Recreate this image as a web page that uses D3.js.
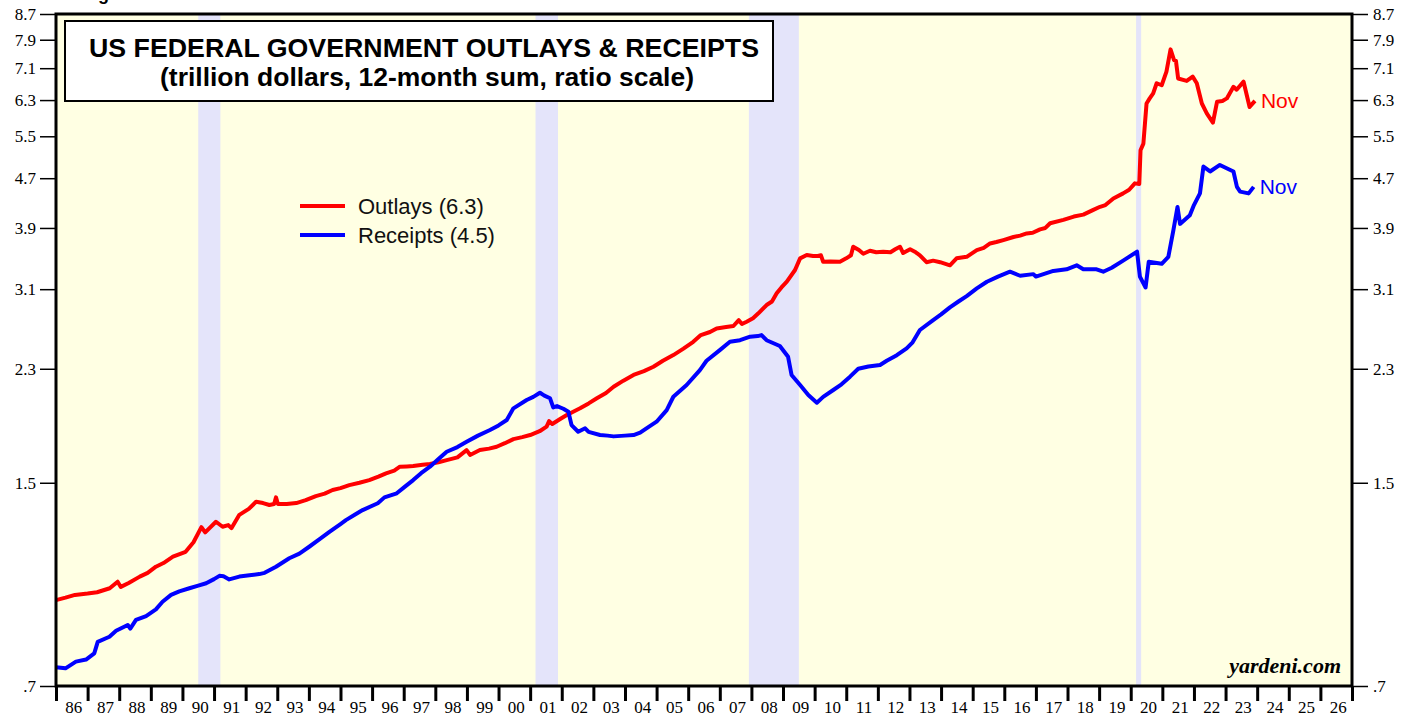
<!DOCTYPE html>
<html>
<head>
<meta charset="utf-8">
<script src="https://cdn.jsdelivr.net/npm/d3@7"></script>
<style>
	html, body { margin: 0; padding: 0; background: #fff; }
	svg { display: block; }
	.axis-label { font-family: "Liberation Serif", "Times New Roman", serif; font-size: 17px; fill: #000; }
	.sans { font-family: "Liberation Sans", Arial, sans-serif; }
</style>
</head>
<body>
<svg id="chart" width="1417" height="717"></svg>
<script>
;(function() {
	"use strict";

	// tick values on the ratio scale, both sides
	var yTicks = [0.7, 1.5, 2.3, 3.1, 3.9, 4.7, 5.5, 6.3, 7.1, 7.9, 8.7];

	// year labels along the bottom
	var years = d3.range(1986, 2027);

	// recessions, decimal years
	var recessions = [[1990.5, 1991.2], [2001.17, 2001.88], [2007.92, 2009.5], [2020.17, 2020.33]];

	// outlays, trillion dollars, 12-month sum: [decimal year, value]
	var outlays = [
		[1986.0, 0.966], [1986.3, 0.975], [1986.6, 0.985], [1987.0, 0.99], [1987.3, 0.995],
		[1987.7, 1.01], [1987.95, 1.035], [1988.05, 1.015], [1988.3, 1.03], [1988.65, 1.055],
		[1988.9, 1.07], [1989.16, 1.095], [1989.4, 1.11], [1989.7, 1.137], [1990.1, 1.158],
		[1990.35, 1.20], [1990.6, 1.27], [1990.72, 1.245], [1991.06, 1.296], [1991.27, 1.272],
		[1991.45, 1.28], [1991.55, 1.265], [1991.8, 1.33], [1992.1, 1.36], [1992.33, 1.397],
		[1992.55, 1.39], [1992.75, 1.38], [1992.9, 1.385], [1992.96, 1.42], [1993.02, 1.385],
		[1993.3, 1.385], [1993.6, 1.39], [1993.9, 1.405], [1994.22, 1.427], [1994.5, 1.44],
		[1994.75, 1.46], [1995.0, 1.47], [1995.28, 1.487], [1995.6, 1.50], [1995.91, 1.515],
		[1996.2, 1.535], [1996.44, 1.554], [1996.7, 1.57], [1996.88, 1.593], [1997.1, 1.595],
		[1997.3, 1.597], [1997.6, 1.605], [1997.83, 1.61], [1998.1, 1.62], [1998.36, 1.633],
		[1998.7, 1.65], [1998.99, 1.695], [1999.1, 1.665], [1999.41, 1.696], [1999.7, 1.705],
		[1999.94, 1.717], [2000.2, 1.74], [2000.47, 1.767], [2000.75, 1.78], [2001.0, 1.794],
		[2001.3, 1.82], [2001.52, 1.851], [2001.6, 1.89], [2001.7, 1.87], [2001.95, 1.905],
		[2002.16, 1.934], [2002.58, 1.983], [2002.85, 2.02], [2003.11, 2.059], [2003.4, 2.10],
		[2003.64, 2.15], [2003.95, 2.20], [2004.27, 2.247], [2004.6, 2.28], [2004.9, 2.318],
		[2005.2, 2.37], [2005.53, 2.421], [2005.85, 2.48], [2006.16, 2.545], [2006.4, 2.61],
		[2006.69, 2.64], [2006.9, 2.676], [2007.2, 2.69], [2007.43, 2.70], [2007.6, 2.76],
		[2007.7, 2.72], [2007.85, 2.744], [2008.05, 2.78], [2008.22, 2.832], [2008.48, 2.921],
		[2008.65, 2.96], [2008.8, 3.052], [2008.95, 3.12], [2009.12, 3.188], [2009.38, 3.331],
		[2009.54, 3.48], [2009.75, 3.523], [2009.95, 3.51], [2010.1, 3.51], [2010.2, 3.52],
		[2010.27, 3.436], [2010.5, 3.44], [2010.8, 3.436], [2011.0, 3.48], [2011.15, 3.52],
		[2011.22, 3.635], [2011.4, 3.59], [2011.54, 3.54], [2011.75, 3.58], [2011.95, 3.56],
		[2012.17, 3.568], [2012.4, 3.56], [2012.55, 3.60], [2012.7, 3.635], [2012.8, 3.55],
		[2013.02, 3.60], [2013.2, 3.56], [2013.33, 3.52], [2013.54, 3.43], [2013.75, 3.45],
		[2013.97, 3.43], [2014.28, 3.39], [2014.49, 3.48], [2014.81, 3.50], [2015.13, 3.59],
		[2015.35, 3.62], [2015.55, 3.68], [2015.75, 3.70], [2015.97, 3.727], [2016.29, 3.77],
		[2016.5, 3.79], [2016.71, 3.821], [2016.9, 3.83], [2017.13, 3.88], [2017.3, 3.90],
		[2017.45, 3.97], [2017.87, 4.02], [2018.2, 4.07], [2018.5, 4.10], [2018.8, 4.17],
		[2019.03, 4.222], [2019.2, 4.25], [2019.45, 4.357], [2019.76, 4.44], [2019.95, 4.50],
		[2020.13, 4.61], [2020.27, 4.60], [2020.31, 5.22], [2020.4, 5.35], [2020.5, 6.22],
		[2020.6, 6.34], [2020.71, 6.46], [2020.82, 6.71], [2020.98, 6.66], [2021.13, 7.01],
		[2021.26, 7.62], [2021.37, 7.32], [2021.43, 7.30], [2021.5, 6.83], [2021.77, 6.77],
		[2021.96, 6.88], [2022.09, 6.71], [2022.25, 6.22], [2022.41, 5.99], [2022.6, 5.79],
		[2022.73, 6.26], [2022.9, 6.28], [2023.04, 6.34], [2023.25, 6.62], [2023.35, 6.55],
		[2023.57, 6.75], [2023.76, 6.14], [2023.93, 6.28]
	];

	// receipts, same units
	var receipts = [
		[1986.0, 0.751], [1986.3, 0.748], [1986.63, 0.767], [1986.95, 0.773], [1987.21, 0.791],
		[1987.27, 0.81], [1987.32, 0.826], [1987.69, 0.842], [1987.9, 0.861], [1988.27, 0.880],
		[1988.35, 0.868], [1988.53, 0.897], [1988.85, 0.91], [1989.16, 0.933], [1989.37, 0.960],
		[1989.64, 0.985], [1989.9, 0.998], [1990.22, 1.010], [1990.5, 1.02], [1990.75, 1.029],
		[1991.0, 1.045], [1991.17, 1.058], [1991.3, 1.056], [1991.48, 1.044], [1991.8, 1.055],
		[1992.12, 1.06], [1992.43, 1.065], [1992.6, 1.07], [1992.96, 1.095], [1993.38, 1.130],
		[1993.7, 1.15], [1994.01, 1.180], [1994.35, 1.215], [1994.65, 1.248], [1995.0, 1.285],
		[1995.17, 1.304], [1995.45, 1.33], [1995.7, 1.354], [1996.18, 1.389], [1996.39, 1.420],
		[1996.78, 1.442], [1997.05, 1.48], [1997.3, 1.515], [1997.55, 1.555], [1997.83, 1.593],
		[1998.1, 1.64], [1998.36, 1.685], [1998.7, 1.715], [1998.99, 1.749], [1999.35, 1.79],
		[1999.73, 1.828], [2000.0, 1.86], [2000.26, 1.898], [2000.47, 1.983], [2000.89, 2.046],
		[2001.1, 2.07], [2001.31, 2.102], [2001.45, 2.08], [2001.63, 2.059], [2001.73, 1.99],
		[2001.85, 2.00], [2002.05, 1.98], [2002.21, 1.958], [2002.31, 1.862], [2002.52, 1.816],
		[2002.74, 1.84], [2002.85, 1.815], [2003.21, 1.794], [2003.45, 1.79], [2003.64, 1.785],
		[2004.0, 1.79], [2004.27, 1.794], [2004.48, 1.81], [2004.75, 1.85], [2005.0, 1.886],
		[2005.32, 1.970], [2005.53, 2.071], [2005.95, 2.164], [2006.37, 2.289], [2006.58, 2.370],
		[2007.0, 2.467], [2007.32, 2.545], [2007.64, 2.56], [2007.96, 2.594], [2008.2, 2.60],
		[2008.32, 2.610], [2008.48, 2.56], [2008.9, 2.505], [2009.16, 2.406], [2009.27, 2.247],
		[2009.54, 2.164], [2009.8, 2.084], [2010.07, 2.025], [2010.27, 2.07], [2010.59, 2.124],
		[2010.85, 2.17], [2011.12, 2.233], [2011.38, 2.30], [2011.7, 2.32], [2012.07, 2.333],
		[2012.28, 2.37], [2012.6, 2.42], [2012.91, 2.483], [2013.1, 2.54], [2013.33, 2.66],
		[2013.75, 2.761], [2014.0, 2.82], [2014.28, 2.896], [2014.55, 2.96], [2014.81, 3.021],
		[2015.13, 3.109], [2015.45, 3.188], [2015.8, 3.25], [2016.18, 3.31], [2016.5, 3.26],
		[2016.92, 3.28], [2017.0, 3.25], [2017.55, 3.32], [2017.97, 3.34], [2018.29, 3.39],
		[2018.5, 3.34], [2018.92, 3.34], [2019.13, 3.31], [2019.4, 3.36], [2019.76, 3.45],
		[2020.2, 3.568], [2020.29, 3.25], [2020.47, 3.12], [2020.57, 3.436], [2020.98, 3.41],
		[2021.19, 3.50], [2021.35, 3.87], [2021.48, 4.22], [2021.56, 3.96], [2021.87, 4.09],
		[2022.0, 4.25], [2022.19, 4.44], [2022.3, 4.91], [2022.51, 4.82], [2022.82, 4.94],
		[2023.1, 4.86], [2023.25, 4.82], [2023.36, 4.55], [2023.46, 4.47], [2023.73, 4.44],
		[2023.89, 4.55]
	];

	var series = [
		{ name: "Outlays (6.3)", color: "#ff0000", values: outlays },
		{ name: "Receipts (4.5)", color: "#0000ff", values: receipts }
	];

	var svg = d3.select("#chart"),
		plot = { left: 56, right: 1352, top: 14, bottom: 686 };

	var x = d3.scaleLinear().domain([1986, 2027]).range([plot.left, plot.right]),
		y = d3.scaleLog().domain([0.7, 8.7]).range([plot.bottom, plot.top]);

	// heading above the frame, clipped by the top edge like the original
	svg.append("text")
		.attr("class", "sans")
		.attr("x", 76).attr("y", 0)
		.style("font-size", "18px").style("font-weight", "bold")
		.text("Log");

	// plot background and recession bands
	svg.append("rect")
		.attr("x", plot.left).attr("y", plot.top)
		.attr("width", plot.right - plot.left).attr("height", plot.bottom - plot.top)
		.attr("fill", "#ffffe3");

	svg.selectAll(".recession")
		.data(recessions)
		.enter().append("rect")
		.attr("class", "recession")
		.attr("x", function(d) { return x(d[0]); })
		.attr("y", plot.top)
		.attr("width", function(d) { return x(d[1]) - x(d[0]); })
		.attr("height", plot.bottom - plot.top)
		.attr("fill", "#e4e4fa");

	// y axes, left and right
	var fmt = function(d) { return d < 1 ? String(d).replace(/^0/, "") : d3.format(".1f")(d); };
	var leftAxis = d3.axisLeft(y).tickValues(yTicks).tickFormat(fmt).tickSize(16).tickPadding(4),
		rightAxis = d3.axisRight(y).tickValues(yTicks).tickFormat(fmt).tickSize(16).tickPadding(5);

	[[leftAxis, plot.left], [rightAxis, plot.right]].forEach(function(a) {
		var g = svg.append("g").attr("transform", "translate(" + a[1] + ",0)").call(a[0]);
		g.select(".domain").remove();
		g.selectAll(".tick line").attr("stroke", "#000").attr("stroke-width", 1.5);
		g.selectAll(".tick text").attr("class", "axis-label").attr("fill", "#000");
	});

	// x axis: ticks on year boundaries, labels centred in each year
	var xAxis = d3.axisBottom(x).tickValues(d3.range(1986, 2028)).tickSize(15).tickFormat("");
	var gx = svg.append("g").attr("transform", "translate(0," + plot.bottom + ")").call(xAxis);
	gx.select(".domain").remove();
	gx.selectAll(".tick line").attr("stroke", "#000").attr("stroke-width", 3);

	svg.selectAll(".year-label")
		.data(years)
		.enter().append("text")
		.attr("class", "axis-label year-label")
		.attr("x", function(d) { return x(d + 0.5) + 2; })
		.attr("y", 713)
		.attr("text-anchor", "middle")
		.text(function(d) { return String(d).slice(2); });

	// series lines
	var line = d3.line()
		.x(function(d) { return x(d[0]); })
		.y(function(d) { return y(d[1]); });

	svg.selectAll(".series")
		.data(series)
		.enter().append("path")
		.attr("class", "series")
		.attr("d", function(d) { return line(d.values); })
		.attr("fill", "none")
		.attr("stroke", function(d) { return d.color; })
		.attr("stroke-width", 4)
		.attr("stroke-linejoin", "round");

	// end labels
	svg.selectAll(".end-label")
		.data(series)
		.enter().append("text")
		.attr("class", "sans end-label")
		.attr("x", function(d) { return x(d.values[d.values.length - 1][0]) + 6; })
		.attr("y", function(d) { return y(d.values[d.values.length - 1][1]) + 7; })
		.attr("fill", function(d) { return d.color; })
		.style("font-size", "21px")
		.text("Nov");

	// frame
	svg.append("rect")
		.attr("x", plot.left).attr("y", plot.top)
		.attr("width", plot.right - plot.left).attr("height", plot.bottom - plot.top)
		.attr("fill", "none").attr("stroke", "#000").attr("stroke-width", 3);

	// title box
	svg.append("rect")
		.attr("x", 65).attr("y", 21).attr("width", 708).attr("height", 80)
		.attr("fill", "#fff").attr("stroke", "#000").attr("stroke-width", 2);

	var title = svg.append("text")
		.attr("class", "sans")
		.attr("text-anchor", "middle")
		.style("font-weight", "bold");
	title.append("tspan").attr("x", 424).attr("y", 57).style("font-size", "25px")
		.attr("textLength", 670).attr("lengthAdjust", "spacingAndGlyphs")
		.text("US FEDERAL GOVERNMENT OUTLAYS & RECEIPTS");
	title.append("tspan").attr("x", 427).attr("y", 86).style("font-size", "25px")
		.attr("textLength", 534).attr("lengthAdjust", "spacingAndGlyphs")
		.text("(trillion dollars, 12-month sum, ratio scale)");

	// legend
	var legend = svg.selectAll(".legend")
		.data(series)
		.enter().append("g")
		.attr("class", "legend")
		.attr("transform", function(d, i) { return "translate(300," + (206 + i * 29) + ")"; });
	legend.append("line")
		.attr("x1", 0).attr("x2", 45)
		.attr("stroke", function(d) { return d.color; })
		.attr("stroke-width", 4);
	legend.append("text")
		.attr("class", "sans")
		.attr("x", 58).attr("y", 8)
		.style("font-size", "22px")
		.attr("fill", "#111")
		.text(function(d) { return d.name; });

	// source credit
	svg.append("text")
		.attr("x", 1341).attr("y", 673)
		.attr("text-anchor", "end")
		.style("font-family", "\"Liberation Serif\", \"Times New Roman\", serif")
		.style("font-size", "22px").style("font-weight", "bold").style("font-style", "italic")
		.text("yardeni.com");
})();
</script>
</body>
</html>
